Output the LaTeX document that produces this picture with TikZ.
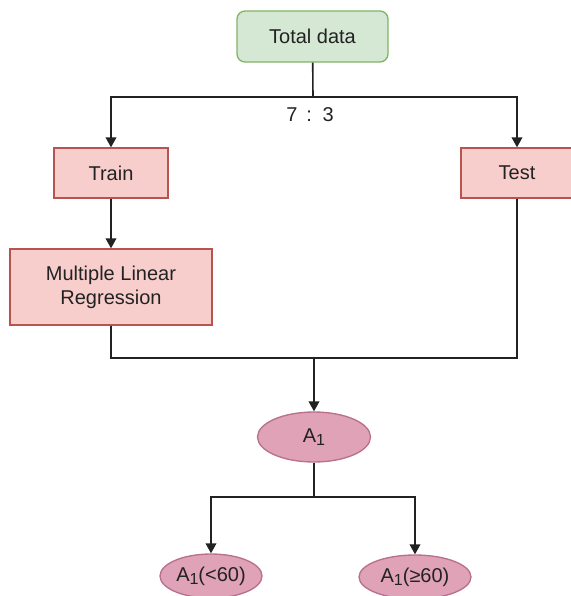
\documentclass[tikz,border=0pt]{standalone}
\usepackage{fontspec}
\setmainfont{Liberation Sans}
\usetikzlibrary{arrows.meta,shapes.geometric}
\definecolor{ink}{HTML}{222222}
\definecolor{greenfill}{HTML}{D5E8D4}
\definecolor{greenline}{HTML}{82B366}
\definecolor{redfill}{HTML}{F8CECC}
\definecolor{redline}{HTML}{B85450}
\definecolor{pinkfill}{HTML}{DFA2B7}
\definecolor{pinkline}{HTML}{B8708E}
\newcommand{\subone}{\raisebox{-0.35ex}{\fontsize{12}{12}\selectfont 1}}
\tikzset{
  every node/.style={font=\fontsize{15}{18}\selectfont, text=ink},
  box/.style={draw=redline, fill=redfill, line width=1pt, align=center, inner sep=0pt},
  startbox/.style={box, draw=greenline, fill=greenfill, rounded corners=6pt},
  oval/.style={ellipse, draw=pinkline, fill=pinkfill, line width=1pt, inner sep=0pt},
  line/.style={draw=ink, line width=1.2pt},
  arr/.style={line, -{Triangle[length=7.5pt, width=8pt]}},
  lbl/.style={font=\fontsize{15}{18}\selectfont},
}

\begin{document}
\begin{tikzpicture}[x=0.75pt, y=-0.75pt]
\useasboundingbox (0,0) rectangle (571,596);
\clip (0,0) rectangle (571,596);

% --- top: split of the data ---
\node[startbox, minimum width=113.25pt, minimum height=38.25pt] (total) at (312.5,36.5) {Total data};
\coordinate (split) at (313,97);
\node[lbl] (ratio) at (310,115) {7 \,:\, 3};
\node[box, minimum width=85.5pt, minimum height=37.5pt] (train) at (111,173) {Train};
\node[box, minimum width=84pt, minimum height=37.5pt] (test) at (517,173) {Test};
\node[box, minimum width=151.5pt, minimum height=57pt] (mlr) at (111,287) {Multiple Linear\\Regression};

% --- middle: model output ---
\coordinate (merge) at (314,358);
\node[oval, minimum width=84.75pt, minimum height=37.5pt] (a1) at (314,437) {A\subone};

% --- bottom: groups ---
\coordinate (split2) at (314,497);
\node[oval, minimum width=76.5pt, minimum height=33pt] (low) at (211,576) {A\subone(<60)};
\node[oval, minimum width=84pt, minimum height=33pt] (high) at (415,577) {A\subone(≥60)};

\draw[line] (total) -- (split);
\draw[arr] (split) -| (train);
\draw[arr] (split) -| (test);
\draw[arr] (train) -- (mlr);
\draw[line] (mlr.south) |- (merge);
\draw[line] (test.south) |- (merge);
\draw[arr] (merge) -- (a1);
\draw[line] (a1) -- (split2);
\draw[arr] (split2) -| (low);
\draw[arr] (split2) -| (high);

\end{tikzpicture}
\end{document}
